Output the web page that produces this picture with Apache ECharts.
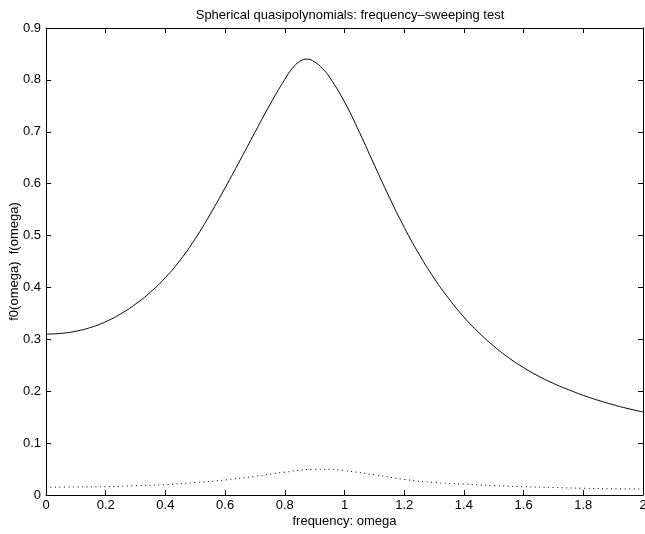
<!DOCTYPE html>
<html>
<head>
<meta charset="utf-8">
<script src="https://cdn.jsdelivr.net/npm/echarts@6/dist/echarts.min.js"></script>
<style>html,body{margin:0;padding:0;background:#fff;}#c{width:645px;height:534px;}</style>
</head>
<body>
<div id="c"></div>
<script>
var omegaMain = [0,0.05,0.1,0.15,0.2,0.25,0.3,0.35,0.4,0.45,0.5,0.55,0.6,0.65,0.7,0.75,0.8,0.825,0.85,0.875,0.9,0.925,0.95,1.0,1.05,1.1,1.15,1.2,1.25,1.3,1.35,1.4,1.45,1.5,1.55,1.6,1.65,1.7,1.75,1.8,1.85,1.9,1.95,2.0];
var fMain = [0.310,0.3115,0.3155,0.323,0.334,0.349,0.368,0.391,0.419,0.453,0.494,0.541,0.592,0.645,0.699,0.752,0.801,0.822,0.8355,0.840,0.8345,0.8225,0.805,0.7575,0.699,0.636,0.574,0.516,0.464,0.418,0.378,0.343,0.313,0.287,0.2645,0.2455,0.229,0.215,0.203,0.192,0.1825,0.174,0.1665,0.160];
var omegaDot = [0,0.1,0.2,0.3,0.4,0.5,0.6,0.7,0.8,0.9,0.95,1.0,1.1,1.2,1.3,1.4,1.5,1.6,1.7,1.8,1.9,2.0];
var f0Dot = [0.015,0.0155,0.016,0.018,0.020,0.024,0.029,0.036,0.044,0.0495,0.0495,0.047,0.039,0.030,0.024,0.021,0.018,0.016,0.0145,0.013,0.012,0.0115];
var xTicks = [0,0.2,0.4,0.6,0.8,1,1.2,1.4,1.6,1.8,2];
var yTicks = [0,0.1,0.2,0.3,0.4,0.5,0.6,0.7,0.8,0.9];

function pairs(xs, ys){ return xs.map(function(x,i){ return [x, ys[i]]; }); }
var font = 'Liberation Sans, Arial, Helvetica, sans-serif';
var tickStyle = {show:true, inside:true, length:5, lineStyle:{color:'#000', width:1}};
var lineAx = {show:true, onZero:false, lineStyle:{color:'#000', width:1}};
function fmt(v){ return String(Math.round(v*10)/10); }

var chart = echarts.init(document.getElementById('c'), null, {renderer:'canvas'});
chart.setOption({
  backgroundColor:'#fff',
  animation:false,
  title:{text:'Spherical quasipolynomials: frequency\u2013sweeping test', left:345, top:4, textAlign:'center',
    textStyle:{fontFamily:font, fontSize:13, fontWeight:'normal', color:'#000'}},
  grid:{left:46, right:2, top:28, bottom:39, containLabel:false, outerBoundsMode:'none'},
  xAxis:[
    {type:'value', min:xTicks[0], max:xTicks[xTicks.length-1], interval:0.2, position:'bottom',
     name:'frequency: omega', nameLocation:'middle', nameGap:20, nameMoveOverlap:false,
     nameTextStyle:{fontFamily:font, fontSize:13, color:'#000'},
     axisLine:lineAx, axisTick:tickStyle, splitLine:{show:false},
     axisLabel:{color:'#000', fontFamily:font, fontSize:13, margin:4, formatter:fmt, hideOverlap:false}},
    {type:'value', min:xTicks[0], max:xTicks[xTicks.length-1], interval:0.2, position:'top',
     axisLine:lineAx, axisTick:tickStyle, splitLine:{show:false}, axisLabel:{show:false}}
  ],
  yAxis:[
    {type:'value', min:yTicks[0], max:yTicks[yTicks.length-1], interval:0.1, position:'left',
     name:'f0(omega)  f(omega)', nameLocation:'middle', nameGap:25, nameMoveOverlap:false,
     nameTextStyle:{fontFamily:font, fontSize:13, color:'#000'},
     axisLine:lineAx, axisTick:tickStyle, splitLine:{show:false},
     axisLabel:{color:'#000', fontFamily:font, fontSize:13, margin:5, formatter:fmt}},
    {type:'value', min:yTicks[0], max:yTicks[yTicks.length-1], interval:0.1, position:'right',
     axisLine:lineAx, axisTick:tickStyle, splitLine:{show:false}, axisLabel:{show:false}}
  ],
  series:[
    {type:'line', data:pairs(omegaMain, fMain), smooth:0.5, showSymbol:false,
     lineStyle:{color:'#000', width:1}},
    {type:'line', data:pairs(omegaDot, f0Dot), smooth:0.4, showSymbol:false,
     lineStyle:{color:'#000', width:1, type:[1,3.5]}}
  ]
});
</script>
</body>
</html>
